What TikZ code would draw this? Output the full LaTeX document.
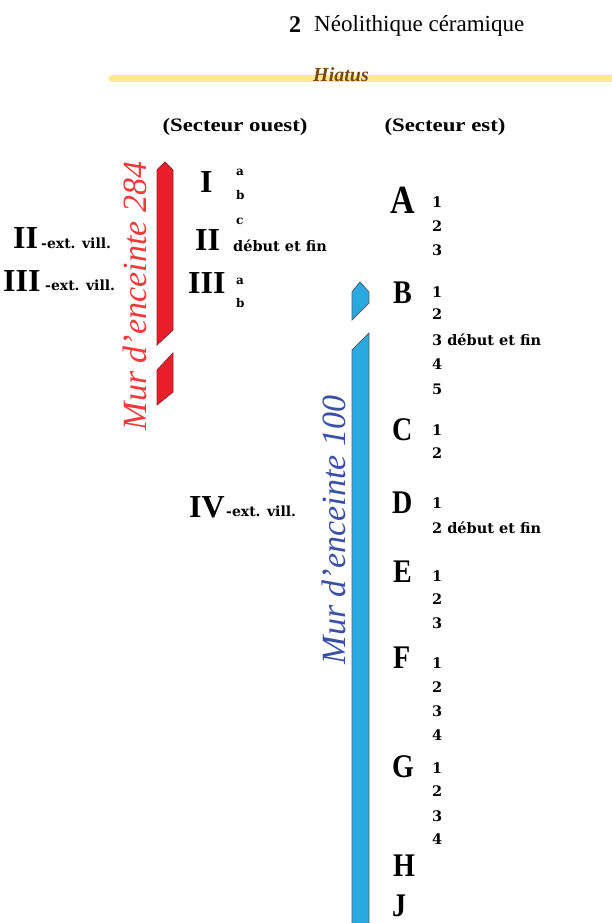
\documentclass[tikz,border=0pt]{standalone}
\usepackage{fontspec}
\setmainfont{Liberation Serif}
\newfontfamily\romfont{Liberation Serif}
\newfontfamily\letfont[FakeStretch=0.85]{Liberation Serif}
\newfontfamily\smallfont{DejaVu Serif}
\newfontfamily\headfont[FakeStretch=1.2]{Liberation Serif}
\definecolor{wallred}{HTML}{E81E2A}
\definecolor{wallredline}{HTML}{8A2A30}
\definecolor{wallblue}{HTML}{29A9E0}
\definecolor{wallblueline}{HTML}{55606A}
\definecolor{murred}{HTML}{F03A3A}
\definecolor{murblue}{HTML}{3A4FA8}
\definecolor{hiatusline}{HTML}{FFE98A}
\definecolor{hiatustext}{HTML}{7A4A14}
\tikzset{%
	per/.style = {name = #1, anchor = west, inner sep = 0pt, font = \romfont\bfseries\fontsize{32}{32}\selectfont},
	phase/.style = {name = #1, anchor = west, inner sep = 0pt, font = \letfont\bfseries\fontsize{33}{33}\selectfont},
	sub/.style = {anchor = west, inner sep = 0pt, font = \smallfont\bfseries\fontsize{14.5}{14.5}\selectfont},
	tiny/.style = {anchor = west, inner sep = 0pt, font = \smallfont\bfseries\fontsize{12}{12}\selectfont},
	ext/.style = {anchor = west, inner sep = 0pt, font = \smallfont\bfseries\fontsize{14}{14}\selectfont},
	head/.style = {inner sep = 0pt, font = \headfont\bfseries\fontsize{19}{19}\selectfont},
	mur/.style = {rotate = 90, inner sep = 0pt, text = #1, font = \itshape\fontsize{34}{34}\selectfont},
	wall/.style = {fill = #1, draw = #1line, line width = 0.8pt}
}
\begin{document}
\begin{tikzpicture}[x=1pt, y=-1pt]
	\useasboundingbox (0,0) rectangle (611,923);
	% titre et hiatus
	\node [anchor = west, inner sep = 0pt, font = \bfseries\fontsize{24}{24}\selectfont] (num) at (289,25) {2};
	\node [anchor = west, inner sep = 0pt, font = \fontsize{23}{23}\selectfont] (neo) at (314,26) {Néolithique céramique};
	\coordinate (hiatusW) at (112,79);
	\coordinate (hiatusE) at (615,79);
	\draw [hiatusline, line width = 7pt, line cap = round] (hiatusW) -- (hiatusE);
	\node [inner sep = 0pt, text = hiatustext, font = \bfseries\itshape\fontsize{20}{20}\selectfont] (hiatus) at (341,75) {Hiatus};
	\node [head] (ouest) at (235,127) {(Secteur ouest)};
	\node [head] (est) at (445,127) {(Secteur est)};
	% murs
	\filldraw [wall = wallred] (157,170) -- (165,162) -- (173,170) -- (173,330) -- (157,345) -- cycle;
	\filldraw [wall = wallred] (157,370) -- (173,353) -- (173,392) -- (157,405) -- cycle;
	\filldraw [wall = wallblue] (352,292) -- (360,282) -- (369,292) -- (369,303) -- (352,320) -- cycle;
	\filldraw [wall = wallblue] (352,350) -- (369,333) -- (369,926) -- (352,926) -- cycle;
	\node [mur = murred] (mur284) at (135,296) {Mur d'enceinte 284};
	\node [mur = murblue] (mur100) at (334,530) {Mur d'enceinte 100};
	% secteur ouest
	\node [per = {I}] at (200,182) {I};
	\node [tiny] (Ia) at (236,172) {a};
	\node [tiny] (Ib) at (236,195) {b};
	\node [tiny] (Ic) at (236,221) {c};
	\node [per = {II}] at (195,240) {II};
	\node [sub] (IIdf) at (233,246) {début et fin};
	\node [per = {III}] at (188,283) {III};
	\node [tiny] (IIIa) at (236,281) {a};
	\node [tiny] (IIIb) at (236,303) {b};
	\node [per = {IIx}] at (13,238) {II};
	\node [ext] (IIxt) at (41,243) {-ext. vill.};
	\node [per = {IIIx}] at (3,281) {III};
	\node [ext] (IIIxt) at (45,285) {-ext. vill.};
	\node [per = {IVx}] at (189,507) {IV};
	\node [ext] (IVxt) at (226,511) {-ext. vill.};
	% secteur est
	\node [phase = {A}, font = \letfont\bfseries\fontsize{40}{40}\selectfont] at (390,200) {A};
	\node [sub] (A1) at (432,202) {1};
	\node [sub] (A2) at (432,226) {2};
	\node [sub] (A3) at (432,250) {3};
	\node [phase = {B}] at (393,293) {B};
	\node [sub] (B1) at (432,292) {1};
	\node [sub] (B2) at (432,314) {2};
	\node [sub] (B3) at (432,340) {3 début et fin};
	\node [sub] (B4) at (432,364) {4};
	\node [sub] (B5) at (432,389) {5};
	\node [phase = {C}] at (392,430) {C};
	\node [sub] (C1) at (432,430) {1};
	\node [sub] (C2) at (432,453) {2};
	\node [phase = {D}] at (392,503) {D};
	\node [sub] (D1) at (432,503) {1};
	\node [sub] (D2) at (432,528) {2 début et fin};
	\node [phase = {E}] at (393,572) {E};
	\node [sub] (E1) at (432,576) {1};
	\node [sub] (E2) at (432,599) {2};
	\node [sub] (E3) at (432,623) {3};
	\node [phase = {F}] at (393,658) {F};
	\node [sub] (F1) at (432,663) {1};
	\node [sub] (F2) at (432,687) {2};
	\node [sub] (F3) at (432,711) {3};
	\node [sub] (F4) at (432,735) {4};
	\node [phase = {G}] at (392,767) {G};
	\node [sub] (G1) at (432,768) {1};
	\node [sub] (G2) at (432,791) {2};
	\node [sub] (G3) at (432,816) {3};
	\node [sub] (G4) at (432,839) {4};
	\node [phase = {H}] at (393,866) {H};
	\node [phase = {J}] at (392,906) {J};
\end{tikzpicture}
\end{document}
